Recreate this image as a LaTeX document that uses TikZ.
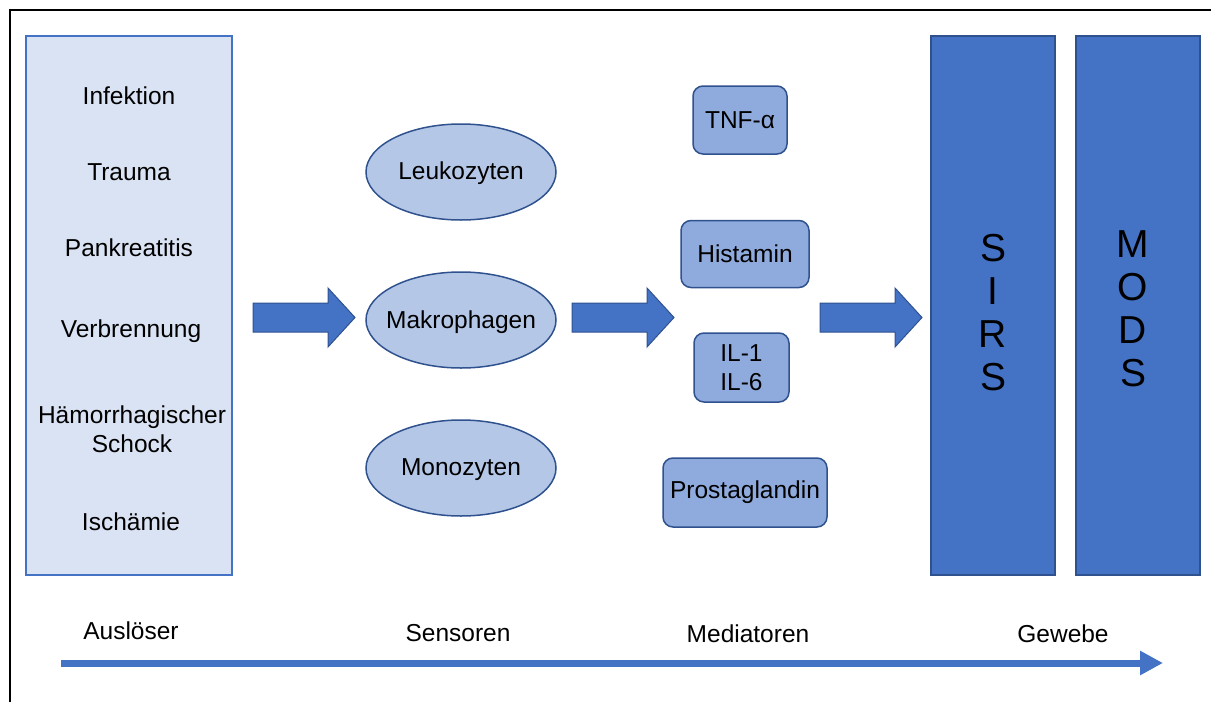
\documentclass[tikz,border=0pt]{standalone}
\usepackage{fontspec}
\setmainfont{Liberation Sans}
\usetikzlibrary{arrows.meta,shapes.geometric}
\definecolor{paleblue}{HTML}{DAE3F3}
\definecolor{lightblue}{HTML}{B4C7E7}
\definecolor{midblue}{HTML}{8FAADC}
\definecolor{mainblue}{HTML}{4472C4}
\definecolor{darkblue}{HTML}{2F528F}
\tikzset{
  lbl/.style={font=\fontsize{24.5}{28.5}\selectfont, align=center, inner sep=0pt},
  sensor/.style={ellipse, draw=darkblue, line width=1.5pt, fill=lightblue,
    minimum width=190pt, minimum height=96pt, inner sep=0pt},
  mediator/.style={rectangle, rounded corners=10pt, draw=darkblue, line width=1.5pt, fill=midblue,
    font=\fontsize{24.5}{28.5}\selectfont, align=center, inner sep=0pt},
  bigbox/.style={draw=darkblue, line width=1.5pt, fill=mainblue},
  blockarrow/.style={draw=darkblue, line width=1pt, fill=mainblue},
  vtext/.style={font=\fontsize{39}{43}\selectfont, align=center, inner sep=0pt}
}
\begin{document}
\begin{tikzpicture}[x=1pt,y=-1pt]
\useasboundingbox (0,0) rectangle (1211,702);
% frame lines
\draw[line width=2pt] (10,702) -- (10,10) -- (1211,10);

% triggers
\filldraw[draw=mainblue, line width=1.5pt, fill=paleblue] (26,36) rectangle (232,575);
\node[lbl] (inf) at (129,96) {Infektion};
\node[lbl] (tra) at (129,172) {Trauma};
\node[lbl] (pan) at (129,248) {Pankreatitis};
\node[lbl] (ver) at (131,331) {Verbrennung};
\node[lbl] (hae) at (132,429) {Hämorrhagischer\\Schock};
\node[lbl] (isc) at (131,522) {Ischämie};

% sensors
\node[sensor] (leu) at (461,172) {};
\node[sensor] (mak) at (461,320) {};
\node[sensor] (mon) at (461,468) {};
\node[lbl] (leut) at (461,173) {Leukozyten};
\node[lbl] (makt) at (461,322) {Makrophagen};
\node[lbl] (mont) at (461,470) {Monozyten};

% mediators
\node[mediator, minimum width=94pt, minimum height=68pt] (tnf) at (740,120) {TNF-α};
\node[mediator, minimum width=128pt, minimum height=67pt] (his) at (745,254) {Histamin};
\node[mediator, minimum width=95pt, minimum height=69pt] (il) at (741.5,367.5) {IL-1\\IL-6};
\node[mediator, minimum width=164pt, minimum height=69pt] (pro) at (745,492.5) {Prostaglandin};

% tissue
\filldraw[bigbox] (931,36) rectangle (1055,575);
\filldraw[bigbox] (1076,36) rectangle (1200,575);
\node[vtext] (sirs) at (993,313) {S\\I\\R\\S};
\node[vtext] (mods) at (1133,309) {M\\O\\D\\S};

% block arrows
\foreach \x in {253,572,820}{
  \filldraw[blockarrow] (\x,303) -- (\x+75,303) -- (\x+75,288) -- (\x+102,317.5)
    -- (\x+75,347) -- (\x+75,332) -- (\x,332) -- cycle;
}

% stage labels
\node[lbl] (aus) at (131,631) {Auslöser};
\node[lbl] (sen) at (458,633) {Sensoren};
\node[lbl] (med) at (748,634) {Mediatoren};
\node[lbl] (gew) at (1063,634) {Gewebe};

% time axis
\coordinate (axs) at (61,663);
\coordinate (axe) at (1163,663);
\draw[mainblue, line width=7pt, -{Triangle[length=23pt,width=23pt]}] (axs) -- (axe);
\end{tikzpicture}
\end{document}
